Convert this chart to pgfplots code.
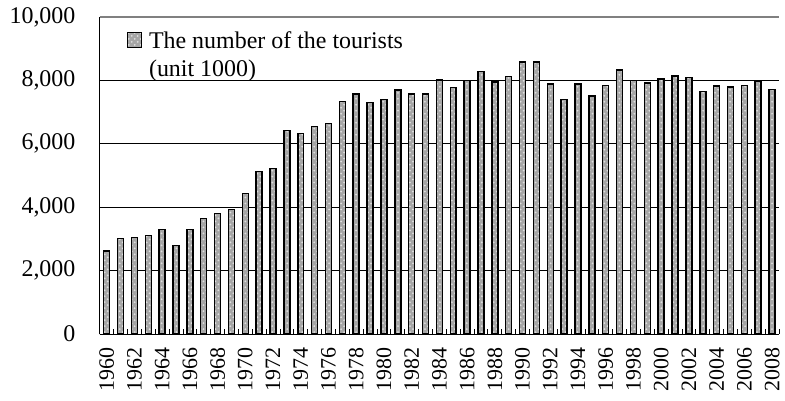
\documentclass[border=0pt]{standalone}
\usepackage{pgfplots}
\pgfplotsset{compat=1.18}
\usepackage{fontspec}
\setmainfont{Liberation Serif}
\usetikzlibrary{patterns}
\pgfplotstableread{
year value
1960 2620
1961 3010
1962 3050
1963 3110
1964 3300
1965 2800
1966 3300
1967 3640
1968 3800
1969 3930
1970 4440
1971 5125
1972 5230
1973 6425
1974 6320
1975 6550
1976 6635
1977 7340
1978 7570
1979 7300
1980 7390
1981 7700
1982 7570
1983 7570
1984 8020
1985 7780
1986 8000
1987 8280
1988 7945
1989 8120
1990 8575
1991 8575
1992 7890
1993 7390
1994 7880
1995 7515
1996 7840
1997 8330
1998 8000
1999 7915
2000 8040
2001 8145
2002 8090
2003 7650
2004 7830
2005 7790
2006 7840
2007 7970
2008 7715
}\tourists
\begin{document}
\fontsize{12pt}{14pt}\selectfont
\begin{tikzpicture}
\path[use as bounding box] (-50pt,-33.5pt) rectangle (343.5pt,167.5pt);
\begin{axis}[
  at={(0,0)}, anchor=south west,
  width=340.5pt, height=159pt, scale only axis,
  xmin=1959.5, xmax=2008.5, ymin=0, ymax=10000,
  ytick={0,2000,...,8000},
  extra y ticks={10000},
  extra y tick style={grid style={gray, line width=0.6pt}},
  xtick={1960,1962,...,2008},
  minor xtick={1959.5,1960.5,...,2008.5},
  scaled x ticks=false, scaled y ticks=false,
  /pgf/number format/assume math mode=true,
  x tick label style={/pgf/number format/1000 sep={}, rotate=90, anchor=east, font=\fontsize{11pt}{13pt}\selectfont, inner sep=0.5pt, xshift=-6pt},
  y tick label style={/pgf/number format/1000 sep={,}, font=\fontsize{12pt}{14pt}\selectfont, xshift=-8pt},
  major x tick style={draw=none},
  minor x tick style={black, line width=0.4pt},
  minor tick length=2.5pt,
  tick align=inside,
  ytick style={draw=none},
  ymajorgrids,
  grid style={black, line width=0.5pt},
  axis x line*=bottom, axis y line*=left,
  axis line style={black, line width=0.6pt},
  legend style={draw=none, fill=none, at={(0.036,0.975)}, anchor=north west,
    font=\fontsize{12pt}{14pt}\selectfont, row sep=0pt, inner sep=1pt,
    /tikz/every even column/.append style={column sep=0pt}},
  legend cell align=left,
  legend image code/.code={\draw[#1] (0pt,-3pt) rectangle (7pt,4.5pt);},
]
\addplot[ybar, bar width=3pt, draw=black, line width=0.75pt, fill=gray!70,
  postaction={pattern=crosshatch dots, pattern color=white!75!gray}]
  table[x=year, y=value] {\tourists};
\addlegendentry{\hspace{1.5pt}The number of the tourists}
\addlegendimage{empty legend}
\addlegendentry{\hspace{1.5pt}(unit 1000)}
\end{axis}
\end{tikzpicture}
\end{document}
